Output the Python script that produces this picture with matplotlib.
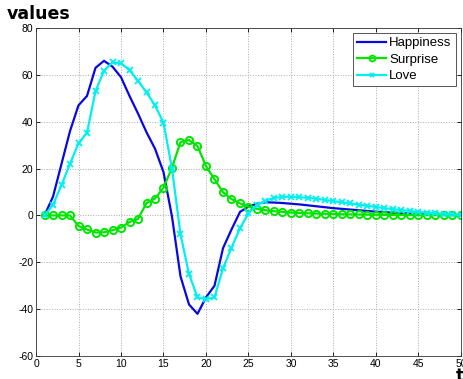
import numpy as np
import matplotlib
matplotlib.use("Agg")
import matplotlib.pyplot as plt

plt.rcParams["font.family"] = ["Liberation Sans", "DejaVu Sans"]
plt.rcParams["axes.unicode_minus"] = False

# =========================
# DATA
# =========================
t = list(range(1, 51))

happiness = [0, 8, 22, 36, 47, 51, 63, 66, 63.5, 59,
             51, 43.5, 35.5, 28.5, 18.5, -0.5, -26, -38, -42, -35,
             -30, -14, -6, 1.5, 3.8, 5.0, 5.6, 5.5, 5.3, 5.0,
             4.7, 4.3, 3.9, 3.5, 3.1, 2.8, 2.5, 2.2, 1.9, 1.6,
             1.4, 1.2, 1.0, 0.8, 0.6, 0.5, 0.4, 0.3, 0.2, 0.1]

surprise = [0, 0, 0, 0, -4.5, -6, -7.3, -7.2, -6.3, -5.2,
            -2.8, -1.5, 5.3, 7.2, 11.8, 20.4, 31.3, 32.2, 29.6, 21,
            15.5, 9.9, 7, 5.1, 3.7, 2.8, 2.2, 1.8, 1.5, 1.2,
            1.0, 0.9, 0.8, 0.7, 0.6, 0.5, 0.45, 0.4, 0.35, 0.3,
            0.25, 0.2, 0.2, 0.15, 0.1, 0.1, 0.1, 0.05, 0.05, 0.0]

love = [0, 4.5, 13, 22, 30.8, 35.3, 53, 61.8, 65.3, 65,
        62, 57.5, 52.5, 47, 39.6, 20, -8, -25, -35, -35.7,
        -35, -22.6, -13.8, -5.5, 0.9, 4.4, 6.3, 7.5, 7.9, 8.0,
        7.8, 7.5, 7.1, 6.6, 6.1, 5.6, 5.1, 4.6, 4.1, 3.6,
        3.1, 2.7, 2.3, 1.9, 1.5, 1.2, 0.9, 0.6, 0.4, 0.2]

XTICKS = list(range(0, 51, 5))
YTICKS = list(range(-60, 81, 20))

# =========================
# PLOT
# =========================
fig = plt.figure(figsize=(4.64, 3.79), dpi=100)
ax = fig.add_axes([0.0776, 0.0607, 0.9159, 0.8654])

ax.plot(t, happiness, color="#0808e0", linewidth=1.6, label="Happiness")
ax.plot(t, surprise, color="#00e600", linewidth=1.6, marker="o", markersize=5.2,
        markerfacecolor="none", markeredgewidth=1.4, label="Surprise")
ax.plot(t, love, color="#00f0f0", linewidth=1.6, marker="x", markersize=4.2,
        markeredgewidth=1.3, label="Love")

ax.set_xlim(0, 50)
ax.set_ylim(-60, 80)
ax.set_xticks(XTICKS)
ax.set_yticks(YTICKS)
ax.tick_params(direction="in", labelsize=7.5, length=3, top=True, right=True,
               width=0.6, pad=2)
ax.grid(True, linestyle=":", color="#aaaaaa", linewidth=0.7)
for s in ax.spines.values():
    s.set_linewidth(0.6)
    s.set_color("#333333")

leg = ax.legend(loc="upper right", fontsize=9.5, fancybox=False, framealpha=1,
                edgecolor="#555555", borderpad=0.3, labelspacing=0.32,
                handlelength=2.2, handletextpad=0.25, borderaxespad=0.4,
                numpoints=1, markerscale=0.8)
leg.get_frame().set_linewidth(0.7)

fig.text(0.015, 0.963, "values", fontsize=12.5, fontweight="bold",
         family=["DejaVu Sans"], va="center", ha="left")
fig.text(0.982, 0.008, "t", fontsize=12, fontweight="bold",
         family=["DejaVu Sans"], va="center", ha="left")

fig.savefig("out.png", dpi=100)
